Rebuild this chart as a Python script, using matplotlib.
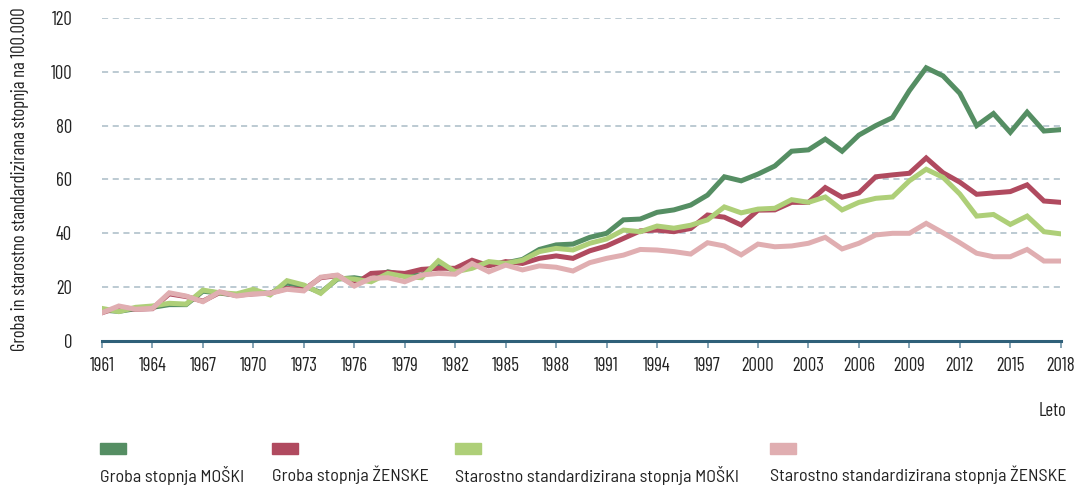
import matplotlib
matplotlib.use("Agg")
import matplotlib.pyplot as plt
from matplotlib.patches import Rectangle
from matplotlib.transforms import ScaledTranslation

plt.rcParams['font.family'] = ['Barlow Semi Condensed', 'Barlow Condensed', 'Roboto Condensed', 'DejaVu Sans']
COND = ['Barlow Condensed', 'Barlow Semi Condensed', 'Roboto Condensed', 'DejaVu Sans']

years = list(range(1961, 2019))

groba_m = [11.5, 11, 12, 12.5, 13.5, 13.5, 18.5, 17.8, 17, 18.5,
           17.5, 21.5, 20.5, 18, 23, 23.5, 22.5, 25.7, 24.5, 24.5,
           28.5, 26, 27.5, 28.5, 29, 30.3, 34, 35.7, 36, 38.5,
           40, 45, 45.3, 47.8, 48.7, 50.5, 54.2, 61, 59.5, 62,
           65, 70.5, 71, 75, 70.5, 76.5, 80, 83, 93, 101.5,
           98.5, 92, 80, 84.5, 77.5, 85, 78, 78.5]

groba_z = [10.5, 12.5, 11.8, 12, 17.5, 16.5, 14.8, 18, 17, 17.5,
           17.8, 19.5, 19, 23.5, 24.3, 21, 25.1, 25.5, 25.1, 26.6,
           27, 27, 30, 27.9, 29.5, 28.8, 30.7, 31.6, 30.7, 33.5,
           35.3, 38.1, 40.9, 41.2, 40.6, 41.8, 46.8, 46, 43.1, 48.6,
           48.7, 51.5, 51.5, 57, 53.4, 55, 61, 61.7, 62.3, 68,
           62.5, 59, 54.5, 55, 55.5, 58, 52, 51.5]

ss_m = [12.1, 10.9, 12.5, 13, 14, 13.7, 18.9, 17.9, 17.5, 19.2,
        17.1, 22.4, 20.8, 17.7, 23.3, 23, 22, 25.1, 23.9, 23.5,
        29.8, 25.7, 27, 29.5, 28.8, 30, 33.2, 34.4, 33.8, 36.3,
        37.9, 41.2, 40.6, 42.7, 41.9, 43, 45, 49.8, 47.6, 49,
        49.3, 52.5, 51.5, 53.5, 48.7, 51.5, 53, 53.5, 59.5, 63.8,
        60.8, 54.6, 46.4, 47, 43.3, 46.4, 40.6, 39.8]

ss_z = [10.5, 13, 11.8, 12.1, 17.9, 16.7, 14.6, 18.3, 16.7, 17.5,
        17.7, 19.2, 18.6, 23.7, 24.5, 20.4, 23.3, 23.5, 22, 24.5,
        25.1, 24.8, 28.8, 25.7, 28.2, 26.4, 27.9, 27.4, 26, 29.1,
        30.7, 31.9, 34, 33.8, 33.2, 32.3, 36.5, 35.3, 32, 36,
        35, 35.3, 36.3, 38.5, 34.2, 36.3, 39.4, 40, 40, 43.7,
        40.2, 36.5, 32.6, 31.3, 31.3, 34, 29.7, 29.7]

labels = ['Groba stopnja MOŠKI', 'Groba stopnja ŽENSKE',
          'Starostno standardizirana stopnja MOŠKI', 'Starostno standardizirana stopnja ŽENSKE']
colors = ['#558E63', '#B04A5F', '#AECF78', '#E0AEB1']
xticks = list(range(1961, 2019, 3))
yticks = [0, 20, 40, 60, 80, 100, 120]

fig = plt.figure(figsize=(10.78, 4.86), dpi=100)
ax = fig.add_axes([0.0946, 0.2984, 0.8894, 0.6646])

for series, c in zip([groba_m, groba_z, ss_m, ss_z], colors):
    ax.plot(years, series, color=c, lw=3.6, solid_joinstyle='miter', zorder=3)

ax.set_xlim(1961, 2018)
ax.set_ylim(0, 120)
ax.set_yticks(yticks)
ax.set_xticks(xticks)
ax.set_xticklabels([str(x) for x in xticks], fontsize=13.5, color='#222222',
                   family=COND, fontweight='normal')
ax.set_yticklabels([str(y) for y in yticks], fontsize=13.5, color='#222222',
                   family=COND, fontweight='normal')
shift = ScaledTranslation(-4/100, 0, fig.dpi_scale_trans)
for lab in ax.get_xticklabels():
    lab.set_transform(lab.get_transform() + shift)
for y in yticks[1:]:
    ax.axhline(y, color='#A9BCC6', lw=1.1, ls=(0, (4, 3)), zorder=1)

for s in ['top', 'right', 'left']:
    ax.spines[s].set_visible(False)
ax.spines['bottom'].set_color('#2F6079')
ax.spines['bottom'].set_linewidth(2.2)
ax.spines['bottom'].set_zorder(4)
ax.tick_params(axis='y', length=0, pad=21.5)
ax.tick_params(axis='x', length=5, width=1.2, color='#6F93A8', pad=6.5, direction='out')

yl = ax.set_ylabel('Groba in starostno standardizirana stopnja na 100.000', fontsize=13,
                   color='#222222', family=COND)
ax.yaxis.set_label_coords(-0.076, 0.5)
fig.canvas.draw()
h = yl.get_window_extent().height
yl.set_fontsize(13 * 345 / h)

fig.text(1067/1078, 1 - 411/486, 'Leto', ha='right', va='center', fontsize=13.5,
         color='#222222', family=COND)

leg_x = [100, 272, 455, 770]
for x, lab, c in zip(leg_x, labels, colors):
    fig.patches.append(Rectangle((x/1078, 1 - 454/486), 26/1078, 11/486,
                                 transform=fig.transFigure, color=c))
    fig.text(x/1078, 1 - 475/486, lab, ha='left', va='center', fontsize=13, color='#222222')

fig.savefig('out.png', dpi=100)
